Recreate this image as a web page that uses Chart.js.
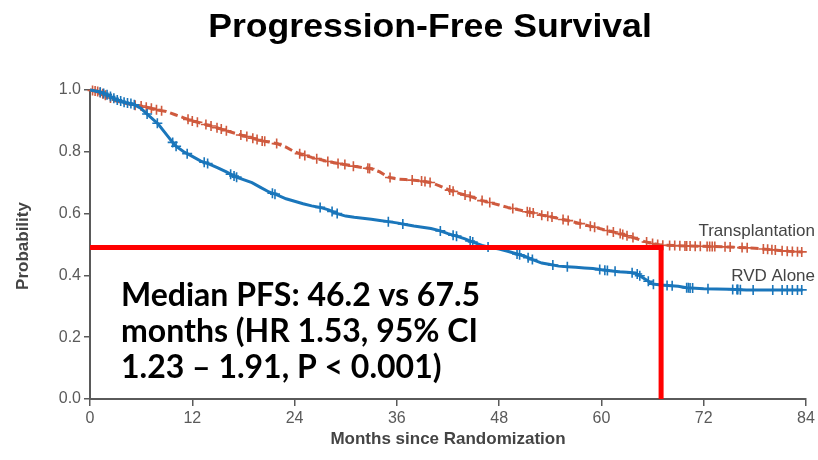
<!DOCTYPE html>
<html>
<head>
<meta charset="utf-8">
<script src="https://cdn.jsdelivr.net/npm/chart.js@4.4.1/dist/chart.umd.min.js"></script>
<style>
  html, body { margin: 0; padding: 0; background: #fff; }
  #wrap { position: relative; width: 818px; height: 460px; }
</style>
</head>
<body>
<div id="wrap"><canvas id="c" width="818" height="460"></canvas></div>
<script>
// ---------- DATA ----------
const titleText = "Progression-Free Survival";
const xTitle = "Months since Randomization";
const yTitle = "Probability";
const seriesNames = ["Transplantation", "RVD Alone"];
const xTicks = [0, 12, 24, 36, 48, 60, 72, 84];
const yTicks = [0.0, 0.2, 0.4, 0.6, 0.8, 1.0];
const annotationLines = [
  "Median PFS: 46.2 vs 67.5",
  "months (HR 1.53, 95% CI",
  "1.23 \u2013 1.91, P < 0.001)"
];

// Kaplan-Meier curve points (months, probability)
const transMonths = [0,1,2,3,4,5,6,7,8,9,10,11,12,13,14,15,16,17,18,19,20,21,22,23,24,25,26,27,28,29,30,31,32,33,34,35,36,37,38,39,40,41,42,43,44,45,46,47,48,49,50,51,52,53,54,55,56,57,58,59,60,61,62,63,64,65,66,67,69,72,75,78,80,82,83.6];
const transProb   = [1.0,0.995,0.98,0.965,0.958,0.952,0.948,0.942,0.935,0.93,0.92,0.91,0.9,0.893,0.885,0.877,0.868,0.86,0.852,0.845,0.836,0.832,0.826,0.815,0.8,0.79,0.782,0.775,0.768,0.763,0.758,0.753,0.749,0.745,0.735,0.718,0.712,0.71,0.708,0.705,0.7,0.69,0.678,0.668,0.66,0.652,0.642,0.635,0.628,0.62,0.614,0.608,0.602,0.595,0.59,0.584,0.578,0.571,0.564,0.557,0.55,0.543,0.537,0.528,0.52,0.51,0.503,0.498,0.496,0.494,0.492,0.488,0.483,0.478,0.476];

const rvdMonths = [0,1,2,3,4,5,6,7,8,9,10,11,12,13,14,15,16,17,18,19,20,21,22,23,24,25,26,27,28,29,30,31,32,33,34,35,36,37,38,39,40,41,42,43,44,45,46,47,48,49,50,51,52,53,54,55,56,57,58,59,60,61,62,63,64,65,66,67,69,70,72,75,77,83.6];
const rvdProb   = [1.0,0.995,0.985,0.97,0.96,0.955,0.94,0.915,0.89,0.855,0.82,0.8,0.785,0.77,0.76,0.748,0.735,0.72,0.71,0.7,0.685,0.67,0.66,0.648,0.64,0.632,0.625,0.62,0.612,0.6,0.592,0.588,0.585,0.582,0.578,0.574,0.57,0.565,0.56,0.556,0.552,0.545,0.535,0.527,0.518,0.507,0.497,0.49,0.485,0.478,0.47,0.462,0.45,0.44,0.435,0.43,0.428,0.426,0.424,0.422,0.418,0.415,0.412,0.41,0.408,0.39,0.372,0.369,0.365,0.36,0.357,0.355,0.353,0.353];

// censoring times (months)
const transCensor = [0.3,0.6,0.9,1.2,1.5,1.8,2.4,5.3,6,6.6,7.2,7.8,8.4,11.5,12,12.6,13.6,14.2,14.9,15.4,16,17.7,18.4,19.1,19.6,20.2,20.5,21.9,24.6,25.2,26.6,27.9,29.1,29.9,30.9,32.6,32.8,35.2,37.8,38.9,39.3,39.9,42.2,42.6,44,44.6,46,46.9,49.6,51.3,51.6,52,53,53.7,54.2,55.5,56.1,57.5,58.7,59.2,60.7,61.4,62.2,62.5,63,63.7,65.3,66,66.6,67.2,68,68.6,69.2,69.8,70,70.4,71,71.6,72.4,72.7,73,73.3,74.5,75.1,76.5,77.1,79,79.5,80,80.4,81.2,81.8,82.4,83,83.5];
const rvdCensor = [1.2,1.6,2.0,2.4,2.8,3.2,3.6,4.0,4.4,4.8,5.2,6.7,7.9,9.7,10.1,11.4,13.4,13.8,16.5,16.9,17.2,21.4,21.7,27,28.4,29,35,36.7,41.1,42.6,43,44.6,44.9,46.7,50.1,50.4,51.4,51.9,54.3,56,59.8,60.4,60.7,61.6,63.6,64.2,64.5,65.5,66.1,67.7,68.3,70,70.2,70.4,70.7,72.5,75.4,75.9,76,76.3,77.8,80.1,81.2,81.8,82.4,83,83.5];

// median reference lines
const medianProb = 0.49;
const medianMonth = 67;

// ---------- helpers ----------
function toPoints(xs, ys) { return xs.map((x, i) => ({ x: x, y: ys[i] })); }
function valueAt(xs, ys, t) {
  for (let i = 1; i < xs.length; i++) {
    if (t <= xs[i]) {
      const f = (t - xs[i - 1]) / (xs[i] - xs[i - 1]);
      return ys[i - 1] + f * (ys[i] - ys[i - 1]);
    }
  }
  return ys[ys.length - 1];
}
function censorPoints(times, xs, ys) { return times.map(t => ({ x: t, y: valueAt(xs, ys, t) })); }

const RED = '#cf5a3e';
const BLUE = '#1a76bb';
const AXIS = '#5a5a5a';
const TXT = '#444444';

const textPlugin = {
  id: 'texts',
  afterDraw(chart) {
    const ctx = chart.ctx;
    ctx.save();
    ctx.fillStyle = '#000';
    ctx.textAlign = 'center';
    ctx.textBaseline = 'alphabetic';
    ctx.save();
    ctx.translate(430, 37);
    ctx.scale(1.08, 1);
    ctx.font = 'bold 33px "Liberation Sans", Arial, sans-serif';
    ctx.fillText(titleText, 0, 0);
    ctx.restore();
    ctx.fillStyle = TXT;
    ctx.font = 'bold 17px "Liberation Sans", Arial, sans-serif';
    ctx.fillText(xTitle, 448, 444);
    ctx.save();
    ctx.translate(28, 246);
    ctx.rotate(-Math.PI / 2);
    ctx.fillText(yTitle, 0, 0);
    ctx.restore();
    ctx.font = '17px "Liberation Sans", Arial, sans-serif';
    ctx.textAlign = 'right';
    ctx.fillText(seriesNames[0], 815, 236);
    ctx.fillText(seriesNames[1], 815, 281);
    ctx.fillStyle = '#000';
    ctx.textAlign = 'left';
    ctx.font = 'bold 32px Lato, "Open Sans", sans-serif';
    annotationLines.forEach((l, i) => ctx.fillText(l, 121, 306 + i * 36));
    ctx.restore();
  }
};

const tickFont = { family: '"Liberation Sans", Arial, sans-serif', size: 16 };

new Chart(document.getElementById('c'), {
  type: 'line',
  data: {
    datasets: [
      {
        label: 'median',
        data: [{ x: 0, y: medianProb }, { x: medianMonth, y: medianProb }, { x: medianMonth, y: 0 }],
        borderColor: '#ff0000', borderWidth: 5, pointRadius: 0, order: 0, clip: 10,
        borderCapStyle: 'butt', borderJoinStyle: 'miter'
      },
      {
        label: seriesNames[1] + ' censor',
        data: censorPoints(rvdCensor, rvdMonths, rvdProb),
        showLine: false, pointStyle: 'cross', pointRadius: 5,
        borderColor: BLUE, borderWidth: 1.6, order: 1, clip: 10
      },
      {
        label: seriesNames[1],
        data: toPoints(rvdMonths, rvdProb),
        borderColor: BLUE, borderWidth: 3, pointRadius: 0, order: 2, clip: 10
      },
      {
        label: seriesNames[0] + ' censor',
        data: censorPoints(transCensor, transMonths, transProb),
        showLine: false, pointStyle: 'cross', pointRadius: 5,
        borderColor: RED, borderWidth: 1.6, order: 3, clip: 10
      },
      {
        label: seriesNames[0],
        data: toPoints(transMonths, transProb),
        borderColor: RED, borderWidth: 3, borderDash: [8, 4],
        pointRadius: 0, order: 4, clip: 10
      }
    ]
  },
  options: {
    responsive: false,
    animation: false,
    layout: { padding: { top: 90, right: 12, left: 0, bottom: 0 } },
    plugins: { legend: { display: false }, tooltip: { enabled: false }, title: { display: false } },
    scales: {
      x: {
        type: 'linear', min: 0, max: 84,
        afterBuildTicks(s) { s.ticks = xTicks.map(v => ({ value: v })); },
        afterFit(s) { s.height = 61; },
        ticks: { color: AXIS, font: tickFont, padding: 3, maxRotation: 0, autoSkip: false },
        grid: { drawOnChartArea: false, drawTicks: true, tickLength: 7, color: AXIS, lineWidth: 1.5 },
        border: { color: AXIS, width: 2 }
      },
      y: {
        type: 'linear', min: 0, max: 1,
        afterBuildTicks(s) { s.ticks = yTicks.map(v => ({ value: v })); },
        afterFit(s) { s.width = 90; },
        ticks: { color: AXIS, font: tickFont, padding: 3, callback: v => Number(v).toFixed(1) },
        grid: { drawOnChartArea: false, drawTicks: true, tickLength: 6, color: AXIS, lineWidth: 1.5 },
        border: { color: AXIS, width: 2 }
      }
    }
  },
  plugins: [textPlugin]
});
</script>
</body>
</html>
